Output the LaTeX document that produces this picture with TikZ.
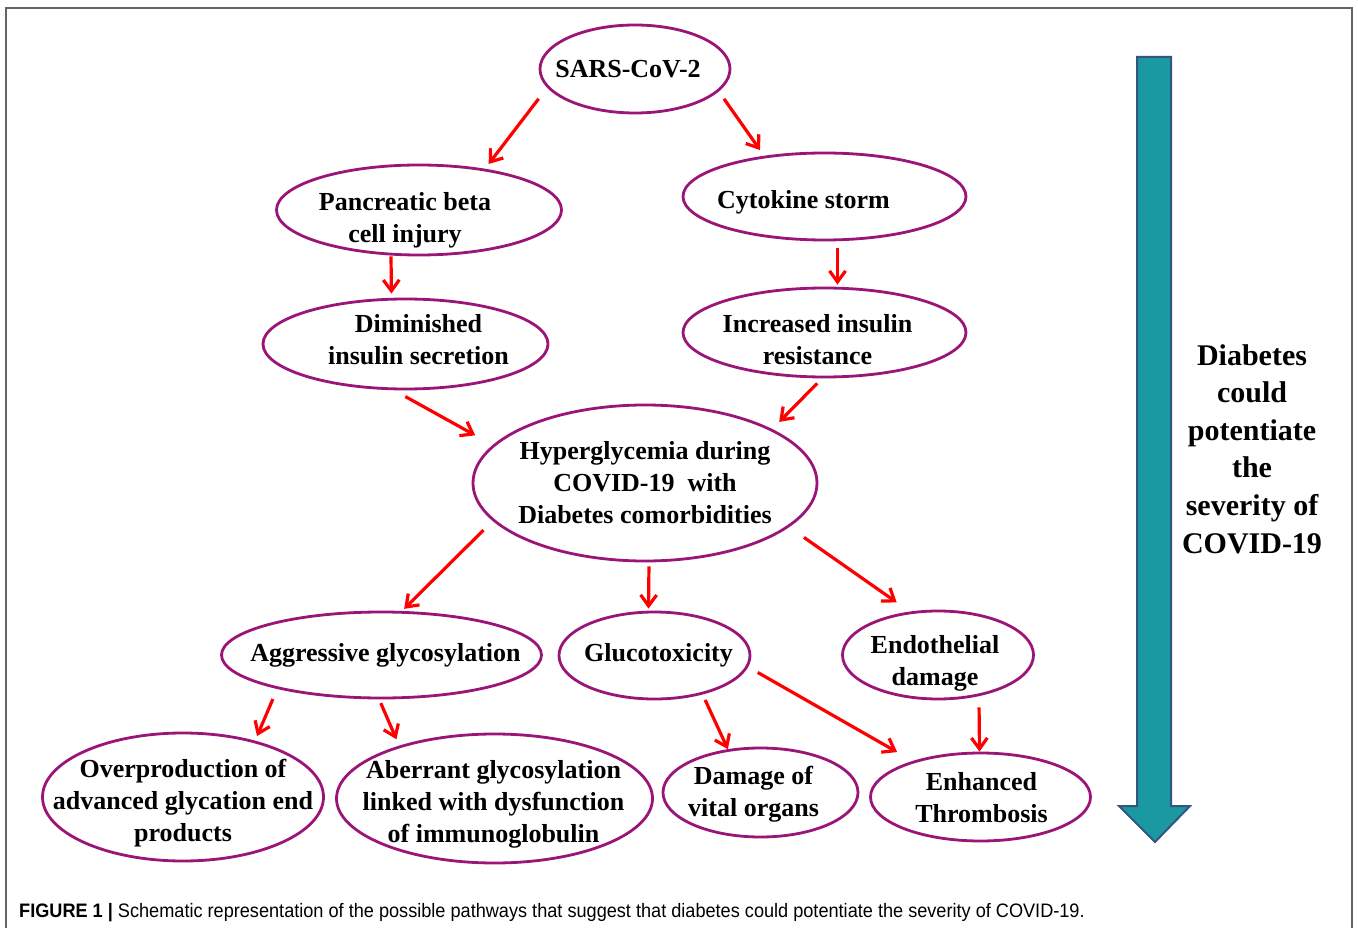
\documentclass[tikz,border=0pt]{standalone}
\usepackage{fontspec}
\setmainfont{Liberation Serif}
\newfontfamily\capfont[FakeStretch=0.93]{Liberation Sans}
\usetikzlibrary{arrows.meta,shapes.geometric}
\definecolor{ovalpurple}{RGB}{155,20,120}
\definecolor{arrowred}{RGB}{255,0,0}
\definecolor{tealfill}{RGB}{27,153,160}
\definecolor{tealedge}{RGB}{52,84,130}
\definecolor{framegray}{RGB}{100,100,100}
\begin{document}
\begin{tikzpicture}[
  x=1pt, y=-1pt,
  oval/.style={ellipse, draw=ovalpurple, line width=2.8pt, inner sep=0pt},
  ovaltext/.style={align=center, inner sep=0pt, font=\fontsize{26}{32}\selectfont\bfseries},
  link/.style={draw=arrowred, line width=3.2pt, -{Straight Barb[length=11pt,width=16pt]}}
]
\useasboundingbox[fill=white] (0,0) rectangle (1358,928);
\draw[framegray, line width=1.3pt] (6,928) -- (6,8) -- (1352,8) -- (1352,928);

\node[oval, minimum width=190pt, minimum height=88pt,
  label={[ovaltext, xshift=-7pt]center:SARS-CoV-2}] (sars) at (635,69) {};
\node[oval, minimum width=285pt, minimum height=90pt,
  label={[ovaltext, xshift=-14pt, yshift=-10pt]center:{Pancreatic beta\\cell injury}}] (panc) at (419,210) {};
\node[oval, minimum width=283pt, minimum height=87pt,
  label={[ovaltext, xshift=-21pt, yshift=-6pt]center:{Cytokine storm}}] (cyto) at (824.5,196.5) {};
\node[oval, minimum width=285pt, minimum height=90pt,
  label={[ovaltext, xshift=13pt, yshift=4pt]center:{Diminished\\insulin secretion}}] (dimin) at (405.5,344) {};
\node[oval, minimum width=283pt, minimum height=89pt,
  label={[ovaltext, xshift=-7pt, yshift=-7pt]center:{Increased insulin\\resistance}}] (incr) at (824.5,332.5) {};
\node[oval, minimum width=344pt, minimum height=156pt,
  label={[ovaltext]center:{Hyperglycemia during\\COVID-19\ \ with\\Diabetes comorbidities}}] (hyper) at (645,483) {};
\node[oval, minimum width=320pt, minimum height=86pt,
  label={[ovaltext, xshift=4pt]center:{Aggressive glycosylation}}] (aggr) at (381.5,655) {};
\node[oval, minimum width=191pt, minimum height=87pt,
  label={[ovaltext, xshift=4pt]center:{Glucotoxicity}}] (gluco) at (654.5,655.5) {};
\node[oval, minimum width=191pt, minimum height=88pt,
  label={[ovaltext, xshift=-3pt, yshift=-8pt]center:{Endothelial\\damage}}] (endo) at (938,655) {};
\node[oval, minimum width=281pt, minimum height=128pt,
  label={[ovaltext, yshift=-6pt]center:{Overproduction of\\advanced glycation end\\products}}] (over) at (183,797) {};
\node[oval, minimum width=316pt, minimum height=129pt,
  label={[ovaltext, xshift=-1pt, yshift=-6pt]center:{Aberrant glycosylation\\linked with dysfunction\\of immunoglobulin}}] (aberr) at (494.5,798.5) {};
\node[oval, minimum width=195pt, minimum height=89pt,
  label={[ovaltext, xshift=-7pt, yshift=-2pt]center:{Damage of\\vital organs}}] (damage) at (760.5,792.5) {};
\node[oval, minimum width=220pt, minimum height=88pt,
  label={[ovaltext, xshift=1pt, yshift=-1pt]center:{Enhanced\\Thrombosis}}] (enh) at (980.5,797) {};

\draw[link, shorten <=14pt, shorten >=6pt] (sars.192) -- (panc.32);
\draw[link, shorten <=9pt, shorten >=7pt] (sars.345) -- (cyto.146);
\draw[link, shorten >=4pt] ([xshift=-28pt]panc.south) -- ([xshift=-14pt]dimin.north);
\draw[link, shorten <=7pt, shorten >=2pt] ([xshift=13pt]cyto.south) -- ([xshift=13pt]incr.north);
\draw[link, shorten <=13pt, shorten >=20pt] (dimin.256) -- (hyper.166);
\draw[link, shorten <=7pt, shorten >=10pt] (incr.267) -- (hyper.23);
\draw[link, shorten <=13pt, shorten >=3pt] (hyper.194) -- (aggr.65);
\draw[link, shorten <=4pt, shorten >=2pt] ([xshift=4pt]hyper.south) -- ([xshift=-6pt]gluco.north);
\draw[link, shorten <=18pt, shorten >=16pt] (hyper.343) -- (endo.123);
\draw[link, shorten <=11pt, shorten >=5pt] (aggr.198) -- (over.38);
\draw[link, shorten <=4pt, shorten >=7pt] (aggr.267) -- (aberr.151);
\draw[link, shorten <=6pt] (gluco.321) -- (damage.127);
\draw[link, shorten <=11pt, shorten >=18pt] (gluco.353) -- (enh.152);
\draw[link, shorten <=7pt] ([xshift=41pt]endo.south) -- ([xshift=-1pt]enh.north);

\draw[draw=tealedge, fill=tealfill, line width=2pt, line join=miter]
  (1137,57) -- (1171,57) -- (1171,806) -- (1190,806) -- (1155,842)
  -- (1119,806) -- (1137,806) -- cycle;
\node[font=\fontsize{30}{37.6}\selectfont\bfseries, align=center] (severity) at (1252,449)
  {Diabetes\\could\\potentiate\\the\\severity of\\COVID-19};

\node[anchor=base west, inner sep=0pt, font=\capfont\fontsize{19.5}{22}\selectfont] (caption) at (19,917)
  {\textbf{FIGURE 1 |} Schematic representation of the possible pathways that suggest that diabetes could potentiate the severity of COVID-19.};
\end{tikzpicture}
\end{document}
